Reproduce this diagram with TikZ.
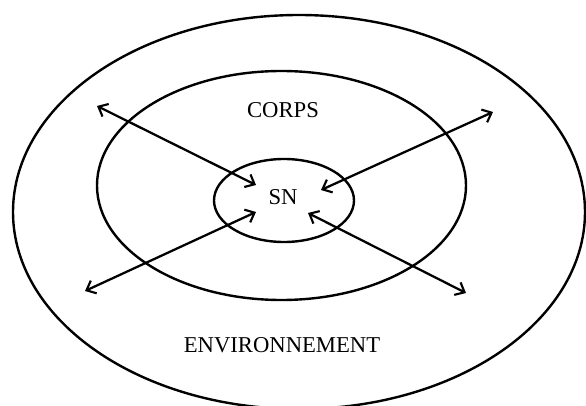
\documentclass[tikz,border=0pt]{standalone}
\usepackage{fontspec}
\setmainfont{Liberation Serif}
\usetikzlibrary{arrows.meta,shapes.geometric}
\begin{document}
\begin{tikzpicture}[x=0.75pt,y=-0.75pt,
  ring/.style={draw,ellipse,line width=1.8pt,inner sep=0pt,outer sep=0pt},
  lbl/.style={font=\fontsize{17}{20}\selectfont,inner sep=0pt,anchor=base},
  barb/.tip={Straight Barb[length=6pt,width=10.5pt,line width=1.6pt]},
  link/.style={line width=1.7pt,barb-barb}]
\useasboundingbox (0,0) rectangle (586,406);
\clip (0,0) rectangle (586,406);
\node[ring,minimum width=572*0.75pt,minimum height=394*0.75pt] (outer) at (299,212) {};
\node[ring,minimum width=369*0.75pt,minimum height=229*0.75pt] (middle) at (281.5,185.5) {};
\node[ring,minimum width=140*0.75pt,minimum height=83*0.75pt] (inner) at (284,200.5) {};
\node[lbl] (corps) at (283,118) {CORPS};
\node[lbl] (sn) at (283,205) {SN};
\node[lbl] (env) at (282,352) {ENVIRONNEMENT};
\coordinate (a1) at (97,106);
\coordinate (b1) at (256,185);
\coordinate (a2) at (493,112);
\coordinate (b2) at (321,190);
\coordinate (a3) at (85,291);
\coordinate (b3) at (256,212);
\coordinate (a4) at (466,293);
\coordinate (b4) at (308,213);
\draw[link] (a1) -- (b1);
\draw[link] (a2) -- (b2);
\draw[link] (a3) -- (b3);
\draw[link] (a4) -- (b4);
\end{tikzpicture}
\end{document}
